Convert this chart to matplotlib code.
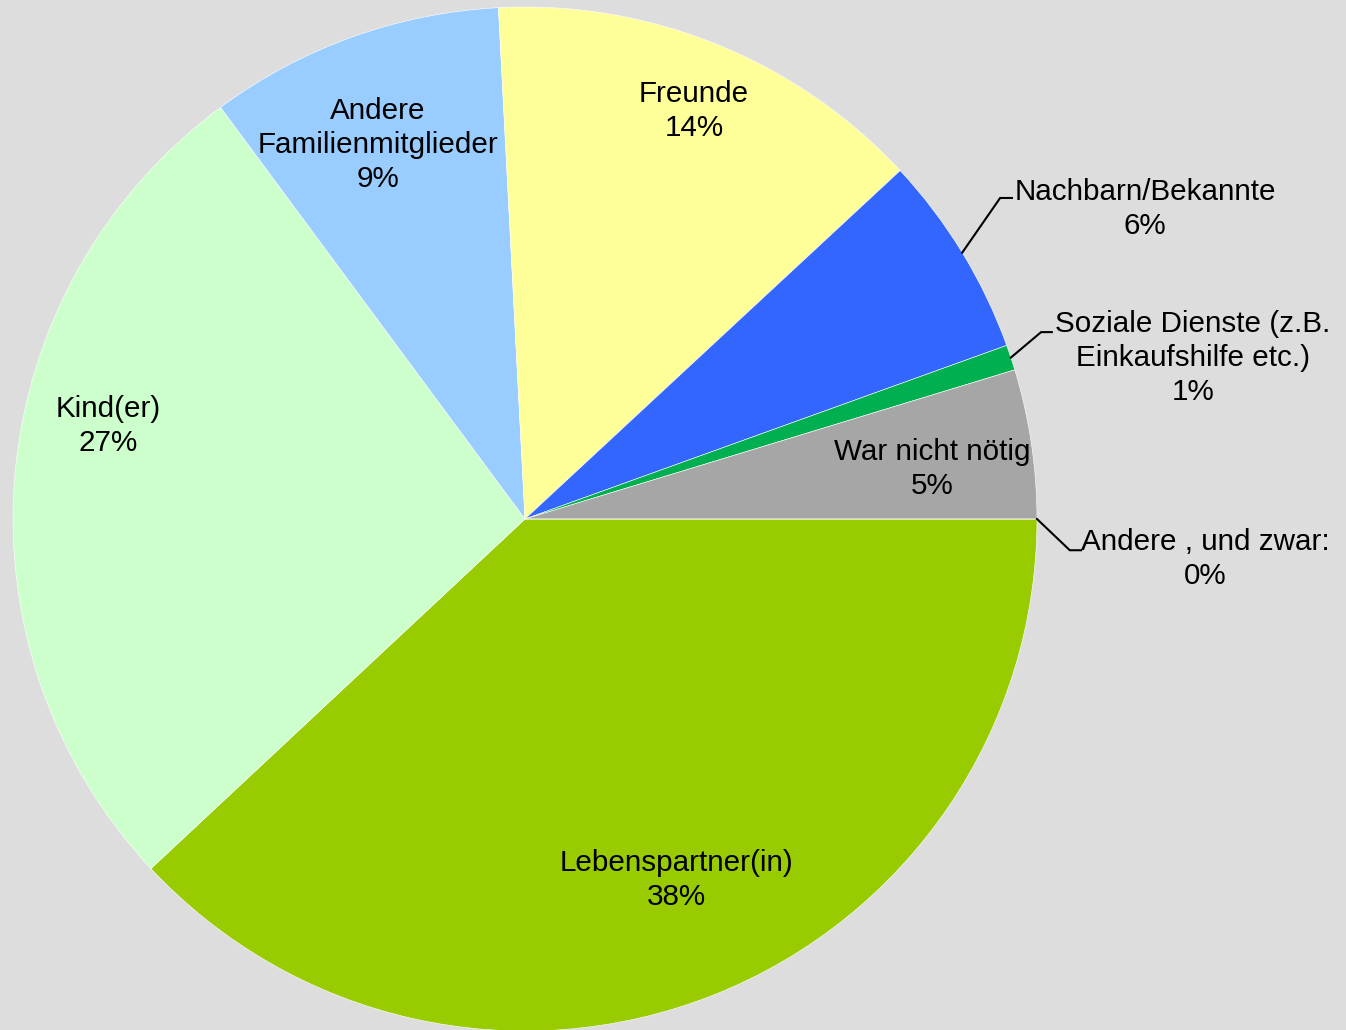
import numpy as np
import matplotlib.pyplot as plt

plt.rcParams['font.family'] = ['Liberation Sans', 'DejaVu Sans']

# Data (percent of answers)
categories = ['Lebenspartner(in)', 'Kind(er)', 'Andere\nFamilienmitglieder', 'Freunde',
              'Nachbarn/Bekannte', 'Soziale Dienste (z.B.\nEinkaufshilfe etc.)',
              'War nicht nötig', 'Andere , und zwar:']
values = [38.0, 26.8, 9.3, 13.9, 6.4, 0.8, 4.7, 0.0]
colors = ['#99CC00', '#CCFFCC', '#99CCFF', '#FFFF99', '#3366FF', '#00B050', '#A6A6A6', '#FFFFFF']

# label centres (pie radius = 1) and leader line elbows
label_pos = [(0.295, -0.705), (-0.814, 0.182), (-0.287, 0.730), (0.330, 0.797),
             (1.211, 0.605), (1.305, 0.314), (0.795, 0.098), (1.328, -0.078)]
leaders = {4: (0.928, 0.627, 0.951), 5: (1.008, 0.365, 1.029), 7: (1.064, -0.061, 1.086)}

bg = '#DDDDDD'
fig = plt.figure(figsize=(13.46, 10.30), dpi=100, facecolor=bg)
ax = fig.add_axes([0, 0, 1, 1])
ax.set_facecolor(bg)

wedges, _ = ax.pie(values, colors=colors, startangle=0, counterclock=False, radius=1,
                   wedgeprops=dict(edgecolor='white', linewidth=0.4))

total = sum(values)
for i, w in enumerate(wedges):
    txt = '%s\n%d%%' % (categories[i], round(values[i] / total * 100))
    x, y = label_pos[i]
    ax.text(x, y, txt, ha='center', va='center', fontsize=21.3, color='black', linespacing=1.27)
    if i in leaders:
        ang = np.deg2rad((w.theta1 + w.theta2) / 2)
        ex, ey, hx = leaders[i]
        ax.plot([np.cos(ang), ex, hx], [np.sin(ang), ey, ey], color='black', lw=1.5,
                solid_joinstyle='miter')

W, H, cx, cy, r = 1346, 1030, 525, 519, 512
ax.set_xlim(-cx / r, (W - cx) / r)
ax.set_ylim(-(H - cy) / r, cy / r)
ax.set_aspect('auto')
ax.axis('off')

fig.savefig('out.png', dpi=100, facecolor=bg)
